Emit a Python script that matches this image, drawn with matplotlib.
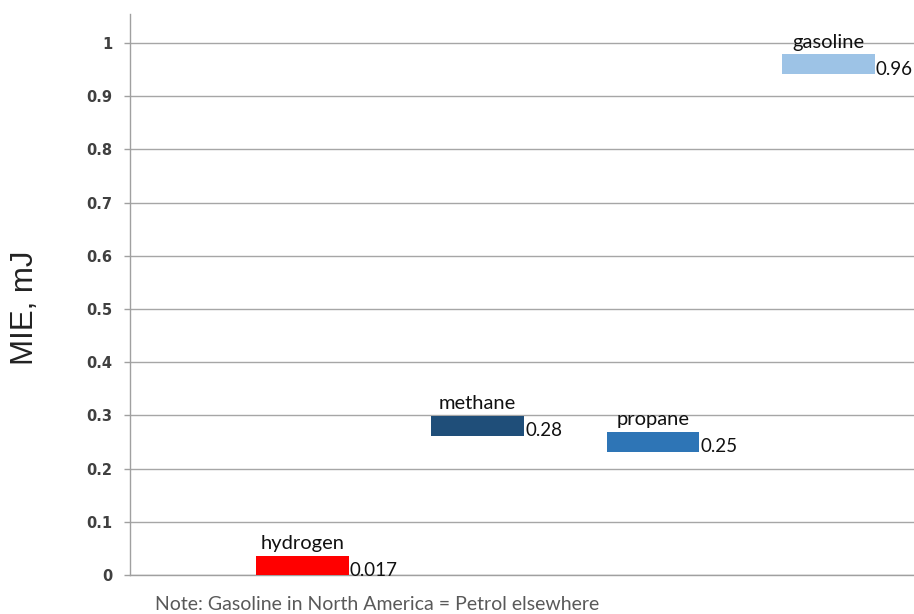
import matplotlib
matplotlib.use("Agg")
import matplotlib.pyplot as plt

fuels = ["hydrogen", "methane", "propane", "gasoline"]
mie = [0.017, 0.28, 0.25, 0.96]
value_labels = ["0.017", "0.28", "0.25", "0.96"]
colors = ["#ff0000", "#1f4e79", "#2e75b6", "#9dc3e6"]
y_ticks = [0, 0.1, 0.2, 0.3, 0.4, 0.5, 0.6, 0.7, 0.8, 0.9, 1.0]
y_tick_labels = ["0", "0.1", "0.2", "0.3", "0.4", "0.5", "0.6", "0.7", "0.8", "0.9", "1"]


def do_plot():
    fig = plt.figure(figsize=(9.14, 6.14), dpi=100)
    ax = fig.add_axes([0.1422, 0.0635, 0.8578, 0.9137])

    bar_h = 0.037
    bar_w = 0.53
    xs = list(range(len(fuels)))
    bottoms = [max(v - bar_h / 2, 0) for v in mie]
    heights = [v + bar_h / 2 - b for v, b in zip(mie, bottoms)]
    ax.bar(xs, heights, bottom=bottoms, width=bar_w, color=colors, zorder=3)

    for x, v, b, h, name, lab in zip(xs, mie, bottoms, heights, fuels, value_labels):
        ax.text(x, b + h + 0.007, name, ha="center", va="bottom",
                fontsize=14.5, family="Lato", color="#111111", zorder=4)
        ax.text(x + bar_w / 2 + 0.005, v - 0.009, lab, ha="left", va="center",
                fontsize=13.5, family="Lato", color="#111111", zorder=4)

    ax.set_xlim(-0.985, 3.49)
    ax.set_ylim(0, 1.0545)
    ax.set_xticks([])
    ax.set_yticks(y_ticks)
    ax.set_yticklabels(y_tick_labels, fontsize=10.5, fontweight="bold", color="#404040")
    ax.tick_params(axis="y", length=4.3, width=1, color="#a0a0a0", pad=8.5)
    ax.grid(axis="y", color="#a6a6a6", linewidth=1, zorder=1)
    for side in ["top", "right"]:
        ax.spines[side].set_visible(False)
    for side in ["left", "bottom"]:
        ax.spines[side].set_color("#a0a0a0")
        ax.spines[side].set_linewidth(1)

    fig.text(25 / 914, 1 - 308 / 614, "MIE, mJ", rotation=90, ha="center", va="center",
             fontsize=22.5, family="Liberation Sans", color="#222222")
    fig.text(155 / 914, 1 - 604 / 614, "Note: Gasoline in North America = Petrol elsewhere",
             ha="left", va="center", fontsize=14, family="Lato", color="#595959")

    fig.savefig("out.png", dpi=100)


if __name__ == "__main__":
    do_plot()
